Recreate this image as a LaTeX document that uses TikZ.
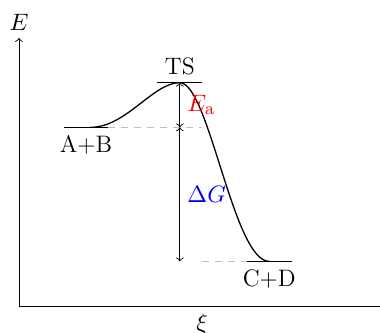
\documentclass[tikz,border=0pt]{standalone}

\newcommand*{\Eab}{4}
\newcommand*{\Ets}{5}
\newcommand*{\Ecd}{1}
\newcommand*{\xts}{3.6}

\begin{document}
\begin{tikzpicture}
[
	level/.style={semithick},
	guide/.style={dashed,gray!50},
	every node/.style={font=\fontsize{11}{13}\selectfont},
	x=0.725cm,
	y=0.725cm
]

	\useasboundingbox (-0.425,-0.6) rectangle (8.08,6.85);

	% axes
	\coordinate (origin) at (0,0);
	\coordinate (etop) at (0,6);
	\coordinate (xiend) at (8.4,0);
	\draw[->] (origin) -- (etop) node[above] (elabel) {$E$};
	\draw[->] (origin) -- (xiend);
	\node[below] (xilabel) at (4.1,0) {$\xi$};

	% energy levels
	\draw[level] (1,\Eab) -- (2,\Eab) node[pos=0.5,below] (ablabel) {A+B};
	\draw[level] (3.1,\Ets) -- (4.1,\Ets) node[pos=0.5,above] (tslabel) {TS};
	\draw[level] (5.1,\Ecd) -- (6.1,\Ecd) node[pos=0.5,below] (cdlabel) {C+D};

	\coordinate (ab) at (1.6,\Eab);
	\coordinate (ts) at (\xts,\Ets);
	\coordinate (cd) at (5.6,\Ecd);

	% reaction path
	\draw[semithick] (ab) .. controls (2.4,\Eab) and (3,\Ets) .. (ts)
		.. controls (4.25,\Ets) and (4.8,\Ecd) .. (cd);

	\draw[guide] (2,\Eab) -- (4.1,\Eab);
	\draw[guide] (4.1,\Ecd) -- (5.1,\Ecd);

	\coordinate (abmid) at (\xts,\Eab);
	\coordinate (cdmid) at (\xts,\Ecd);

	\draw[<->] (ts) -- (abmid) node[pos=0.5,right,red] (ealabel) {$E_\mathrm{a}$};
	\draw[<->] (abmid) -- (cdmid) node[pos=0.5,right,blue] (dglabel) {$\Delta G$};

\end{tikzpicture}
\end{document}
